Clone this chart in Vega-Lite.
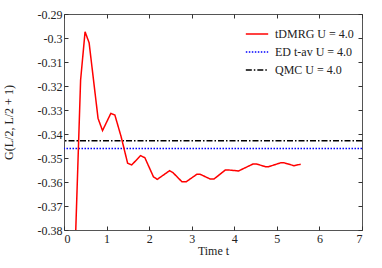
{
  "$schema": "https://vega.github.io/schema/vega-lite/v6.json",
  "autosize": "none",
  "width": 298,
  "height": 216,
  "padding": {"left": 64, "top": 14, "right": 20, "bottom": 38},
  "background": "white",
  "config": {
    "font": "Liberation Serif",
    "view": {"stroke": "#555", "strokeWidth": 1},
    "axis": {"grid": false, "domain": false, "tickColor": "#333", "tickSize": -4, "labelFont": "Liberation Serif", "labelFontSize": 12, "labelColor": "#222", "titleFont": "Liberation Serif", "titleFontSize": 12, "titleFontWeight": "normal", "titleColor": "#222"},
    "legend": {"labelFont": "Liberation Serif", "labelFontSize": 12, "labelColor": "#222"}
  },
  "datasets": {
    "dmrg": [
      {"t": 0.0, "g": -0.62, "series": "tDMRG U = 4.0"},
      {"t": 0.2, "g": -0.422, "series": "tDMRG U = 4.0"},
      {"t": 0.39, "g": -0.3175, "series": "tDMRG U = 4.0"},
      {"t": 0.495, "g": -0.2974, "series": "tDMRG U = 4.0"},
      {"t": 0.59, "g": -0.302, "series": "tDMRG U = 4.0"},
      {"t": 0.8, "g": -0.3335, "series": "tDMRG U = 4.0"},
      {"t": 0.905, "g": -0.3386, "series": "tDMRG U = 4.0"},
      {"t": 1.1, "g": -0.3314, "series": "tDMRG U = 4.0"},
      {"t": 1.195, "g": -0.3321, "series": "tDMRG U = 4.0"},
      {"t": 1.34, "g": -0.341, "series": "tDMRG U = 4.0"},
      {"t": 1.495, "g": -0.3522, "series": "tDMRG U = 4.0"},
      {"t": 1.59, "g": -0.3529, "series": "tDMRG U = 4.0"},
      {"t": 1.8, "g": -0.349, "series": "tDMRG U = 4.0"},
      {"t": 1.9, "g": -0.3499, "series": "tDMRG U = 4.0"},
      {"t": 2.1, "g": -0.3578, "series": "tDMRG U = 4.0"},
      {"t": 2.19, "g": -0.3589, "series": "tDMRG U = 4.0"},
      {"t": 2.48, "g": -0.3553, "series": "tDMRG U = 4.0"},
      {"t": 2.56, "g": -0.3561, "series": "tDMRG U = 4.0"},
      {"t": 2.77, "g": -0.3599, "series": "tDMRG U = 4.0"},
      {"t": 2.87, "g": -0.3599, "series": "tDMRG U = 4.0"},
      {"t": 3.12, "g": -0.3568, "series": "tDMRG U = 4.0"},
      {"t": 3.2, "g": -0.3568, "series": "tDMRG U = 4.0"},
      {"t": 3.44, "g": -0.3588, "series": "tDMRG U = 4.0"},
      {"t": 3.52, "g": -0.3588, "series": "tDMRG U = 4.0"},
      {"t": 3.79, "g": -0.355, "series": "tDMRG U = 4.0"},
      {"t": 3.87, "g": -0.355, "series": "tDMRG U = 4.0"},
      {"t": 4.1, "g": -0.3554, "series": "tDMRG U = 4.0"},
      {"t": 4.44, "g": -0.3525, "series": "tDMRG U = 4.0"},
      {"t": 4.52, "g": -0.3525, "series": "tDMRG U = 4.0"},
      {"t": 4.73, "g": -0.3536, "series": "tDMRG U = 4.0"},
      {"t": 4.81, "g": -0.3536, "series": "tDMRG U = 4.0"},
      {"t": 5.09, "g": -0.352, "series": "tDMRG U = 4.0"},
      {"t": 5.17, "g": -0.352, "series": "tDMRG U = 4.0"},
      {"t": 5.4, "g": -0.3532, "series": "tDMRG U = 4.0"},
      {"t": 5.56, "g": -0.3526, "series": "tDMRG U = 4.0"}
    ],
    "refs": [
      {"g": -0.346, "series": "ED t-av U = 4.0"},
      {"g": -0.3428, "series": "QMC U = 4.0"}
    ]
  },
  "layer": [
    {
      "data": {"name": "refs"},
      "mark": {"type": "rule", "strokeWidth": 1.5},
      "encoding": {
        "y": {"field": "g", "type": "quantitative", "scale": {"domain": [-0.38, -0.29], "nice": false, "zero": false},
              "axis": {"orient": "left", "title": "G(L/2, L/2 + 1)", "values": [-0.38,-0.37,-0.36,-0.35,-0.34,-0.33,-0.32,-0.31,-0.3,-0.29], "labelExpr": "replace(format(datum.value, '.2~f'), '\u2212', '-')", "labelPadding": 6, "titlePadding": 22}},
        "color": {"field": "series", "type": "nominal", "scale": {"domain": ["tDMRG U = 4.0", "ED t-av U = 4.0", "QMC U = 4.0"], "range": ["#ff0000", "#0000ff", "#000000"]},
                  "legend": {"title": null, "orient": "top-right", "offset": 8, "symbolType": "stroke", "symbolSize": 500, "symbolStrokeWidth": 1.5, "rowPadding": 0, "labelOffset": 6}},
        "strokeDash": {"field": "series", "type": "nominal", "scale": {"domain": ["tDMRG U = 4.0", "ED t-av U = 4.0", "QMC U = 4.0"], "range": [[1, 0], [1.5, 1.5], [6, 2, 1.5, 2]]}, "legend": null}
      }
    },
    {
      "data": {"name": "dmrg"},
      "mark": {"type": "line", "strokeWidth": 1.5, "clip": true},
      "encoding": {
        "x": {"field": "t", "type": "quantitative", "scale": {"domain": [0, 7], "nice": false},
              "axis": {"orient": "bottom", "title": "Time t", "values": [0,1,2,3,4,5,6,7], "labelPadding": 7, "titlePadding": 1}},
        "y": {"field": "g", "type": "quantitative", "axis": {"orient": "right", "labels": false, "title": null, "values": [-0.38,-0.37,-0.36,-0.35,-0.34,-0.33,-0.32,-0.31,-0.3,-0.29]}},
        "color": {"field": "series", "type": "nominal"},
        "strokeDash": {"field": "series", "type": "nominal"}
      }
    },
    {
      "data": {"name": "dmrg"},
      "mark": {"type": "point", "opacity": 0},
      "encoding": {
        "x": {"field": "t", "type": "quantitative", "axis": {"orient": "top", "labels": false, "title": null, "values": [0,1,2,3,4,5,6,7]}},
        "y": {"field": "g", "type": "quantitative", "axis": null}
      }
    }
  ],
  "resolve": {"axis": {"x": "independent", "y": "independent"}}
}
